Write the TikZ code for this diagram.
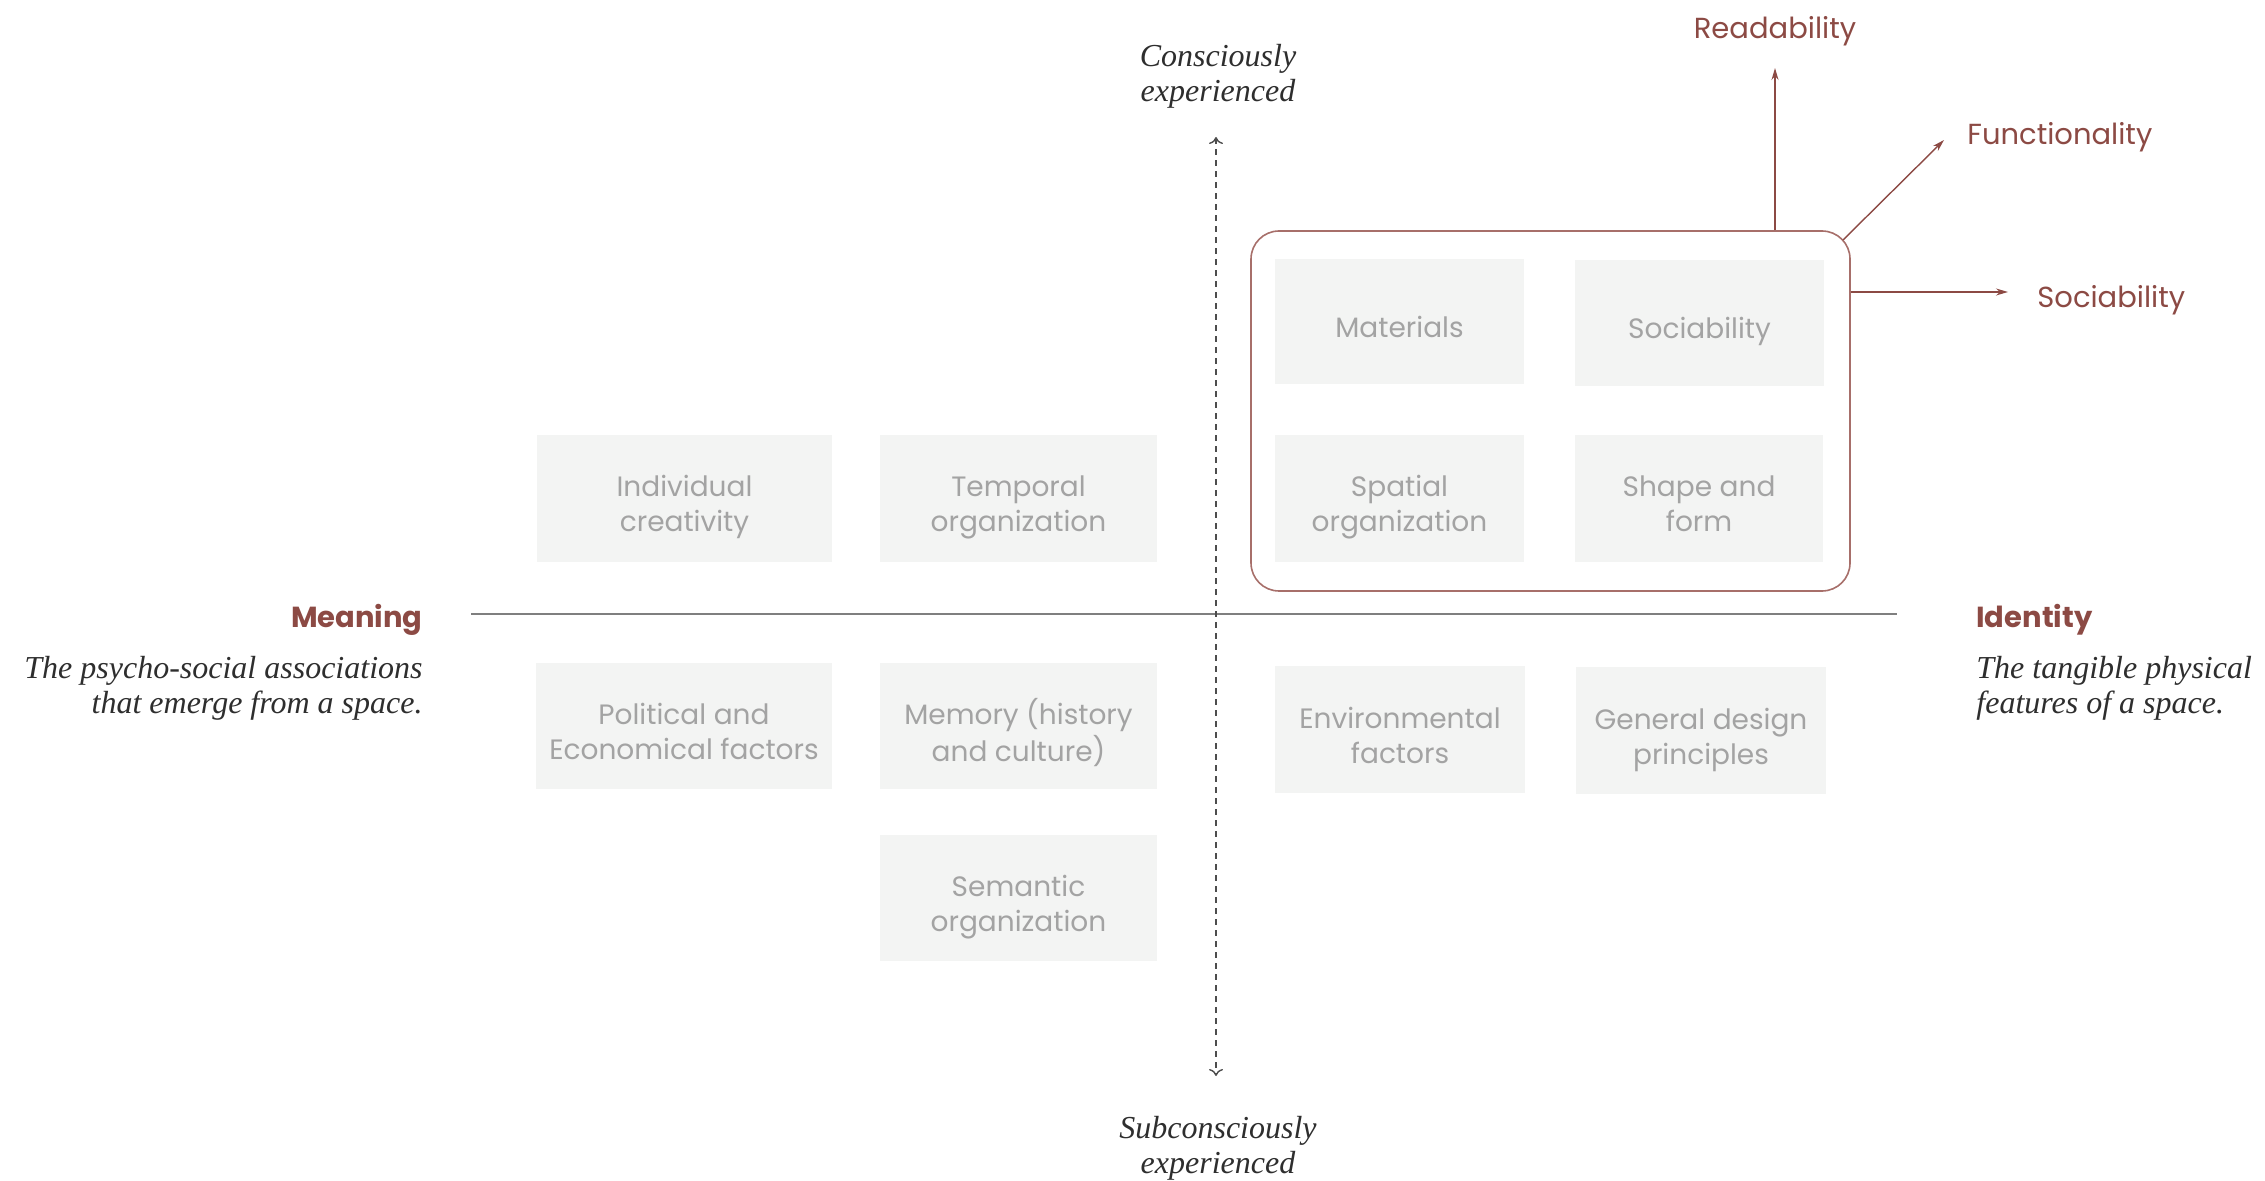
\documentclass[tikz,border=0pt]{standalone}
\usepackage{fontspec}
\setsansfont{Poppins}
\newfontfamily\serifit{Liberation Serif}
\usetikzlibrary{arrows.meta}
\definecolor{accent}{HTML}{8C4A44}
\definecolor{grpline}{HTML}{A76F6A}
\definecolor{cellfill}{HTML}{F3F4F3}
\definecolor{celltext}{HTML}{A3A3A3}
\definecolor{axisgray}{HTML}{7F7F7F}
\definecolor{darktext}{HTML}{2E2E2E}
\newcommand\celltxt[1]{\raisebox{-4.5pt}[\height][\depth]{\begin{tabular}{@{}c@{}}#1\end{tabular}}}
\tikzset{
  cell/.style={fill=cellfill, text=celltext, inner sep=0pt,
    font=\sffamily\fontsize{14}{17.5}\selectfont},
  accentlabel/.style={text=accent, font=\sffamily\fontsize{14.5}{17}\selectfont, inner sep=0pt},
  headlabel/.style={text=accent, font=\sffamily\bfseries\fontsize{14.5}{17}\selectfont, inner sep=0pt},
  italabel/.style={text=darktext, font=\serifit\itshape\fontsize{16}{17.5}\selectfont, inner sep=0pt},
  accentarrow/.style={draw=accent, line width=0.7pt, -{Stealth[length=6pt,width=3.5pt]}},
}
\begin{document}
\begin{tikzpicture}[x=0.5pt,y=-0.5pt]
\useasboundingbox (0,0) rectangle (2265,1181);

% group rectangle
\node[draw=grpline, line width=0.8pt, rounded corners=14pt, minimum width=299.5pt, minimum height=180pt, inner sep=0pt] (grp) at (1550.5,411) {};

% cells
\node[cell, minimum width=147.5pt, minimum height=63.5pt] (indiv) at (684.5,498.5) {\celltxt{Individual\\creativity}};
\node[cell, minimum width=138.5pt, minimum height=63.5pt] (temporal) at (1018.5,498.5) {\celltxt{Temporal\\organization}};
\node[cell, minimum width=124.5pt, minimum height=62.5pt] (materials) at (1399.5,321.5) {\celltxt{Materials}};
\node[cell, minimum width=124.5pt, minimum height=63pt] (sociab) at (1699.5,323) {\celltxt{Sociability}};
\node[cell, minimum width=124.5pt, minimum height=63.5pt] (spatial) at (1399.5,498.5) {\celltxt{Spatial\\organization}};
\node[cell, minimum width=124pt, minimum height=63.5pt] (shape) at (1699,498.5) {\celltxt{Shape and\\form}};
\node[cell, minimum width=148pt, minimum height=63pt] (political) at (684,726) {\celltxt{Political and\\Economical factors}};
\node[cell, minimum width=138.5pt, minimum height=63pt] (memory) at (1018.5,726) {\celltxt{Memory (history\\and culture)}};
\node[cell, minimum width=125pt, minimum height=63.5pt] (environ) at (1400,729.5) {\celltxt{Environmental\\factors}};
\node[cell, minimum width=125pt, minimum height=63.5pt] (general) at (1701,730.5) {\celltxt{General design\\principles}};
\node[cell, minimum width=138.5pt, minimum height=63pt] (semantic) at (1018.5,898) {\celltxt{Semantic\\organization}};

% axes
\coordinate (hl) at (471,614);
\coordinate (hr) at (1897,614);
\draw[axisgray, line width=1pt] (hl) -- (hr);
\coordinate (vt) at (1216,137);
\coordinate (vb) at (1216,1076);
\draw[darktext!85, line width=0.7pt, dash pattern=on 3pt off 2.5pt,
  {To[length=3.5pt,width=7pt]}-{To[length=3.5pt,width=7pt]}] (vt) -- (vb);

% axis labels
\node[italabel, align=center] (conscious) at (1218,76.5) {Consciously\\experienced};
\node[italabel, align=center] (subconscious) at (1218,1148.5) {Subconsciously\\experienced};
\node[headlabel, anchor=east] (meaning) at (423,619.5) {Meaning};
\node[italabel, align=right, anchor=east] (meaningdesc) at (423,688) {The psycho-social associations\\that emerge from a space.};
\node[headlabel, anchor=west] (identity) at (1976,619.5) {Identity};
\node[italabel, align=left, anchor=west] (identitydesc) at (1976,688) {The tangible physical\\features of a space.};

% outgoing arrows
\coordinate (readtip) at (1775,68);
\coordinate (functip) at (1944,140);
\coordinate (functail) at (1843,240);
\coordinate (soctip) at (2008,292);
\node[accentlabel] (readability) at (1775,31.5) {Readability};
\node[accentlabel, anchor=west] (functionality) at (1967,137.5) {Functionality};
\node[accentlabel, anchor=west] (sociability) at (2037,300.5) {Sociability};
\draw[accentarrow] (grp.north -| readtip) -- (readtip);
\draw[accentarrow] (functail) -- (functip);
\draw[accentarrow] (grp.east |- soctip) -- (soctip);
\end{tikzpicture}
\end{document}
